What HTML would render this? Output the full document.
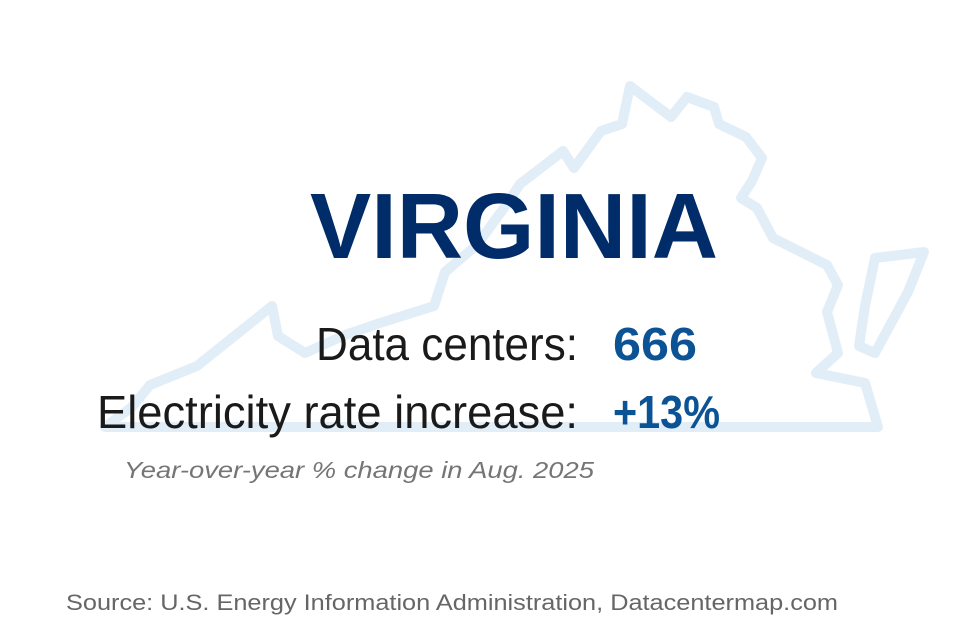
<!DOCTYPE html>
<html><head><meta charset="utf-8"><style>
html,body{margin:0;padding:0;background:#fff;}
svg{display:block;font-family:"Liberation Sans",sans-serif;}
</style></head><body>
<svg width="956" height="640" viewBox="0 0 956 640">
<g fill="none" stroke="#e2eef7" stroke-width="10" stroke-linejoin="round" stroke-linecap="round">
<path d="M105,427 L132,407 L150,385 L197,366 L272,306 L278,336 L305,353 L345,335 L380,323 L434,306 L445,272 L477,245 L509,201 L520,184 L563,151 L574,168 L601,131 L622,124 L630,86 L671,117 L687,97 L714,107 L719,124 L746,137 L762,158 L752,181 L741,198 L757,208 L773,238 L827,265 L838,285 L827,312 L838,353 L816,373 L865,383 L878,427 Z"/>
<path d="M875,258 L924,252 L908,292 L875,353 L859,346 L865,306 Z"/>
</g>
<text x="514" y="258" text-anchor="middle" font-size="93" font-weight="bold" fill="#002d6a" textLength="408" lengthAdjust="spacingAndGlyphs">VIRGINIA</text>
<text x="316" y="360" font-size="46" fill="#1a1a1a" textLength="262" lengthAdjust="spacingAndGlyphs">Data centers:</text>
<text x="613" y="360" font-size="46" font-weight="bold" fill="#0b5394" textLength="84" lengthAdjust="spacingAndGlyphs">666</text>
<text x="97" y="428" font-size="46" fill="#1a1a1a" textLength="481" lengthAdjust="spacingAndGlyphs">Electricity rate increase:</text>
<text x="613" y="428" font-size="46" font-weight="bold" fill="#0b5394" textLength="107" lengthAdjust="spacingAndGlyphs">+13%</text>
<text x="124" y="478" font-size="23" font-style="italic" fill="#757575" textLength="470" lengthAdjust="spacingAndGlyphs">Year-over-year % change in Aug. 2025</text>
<text x="66" y="610" font-size="22" fill="#666" textLength="772" lengthAdjust="spacingAndGlyphs">Source: U.S. Energy Information Administration, Datacentermap.com</text>
</svg>
</body></html>
